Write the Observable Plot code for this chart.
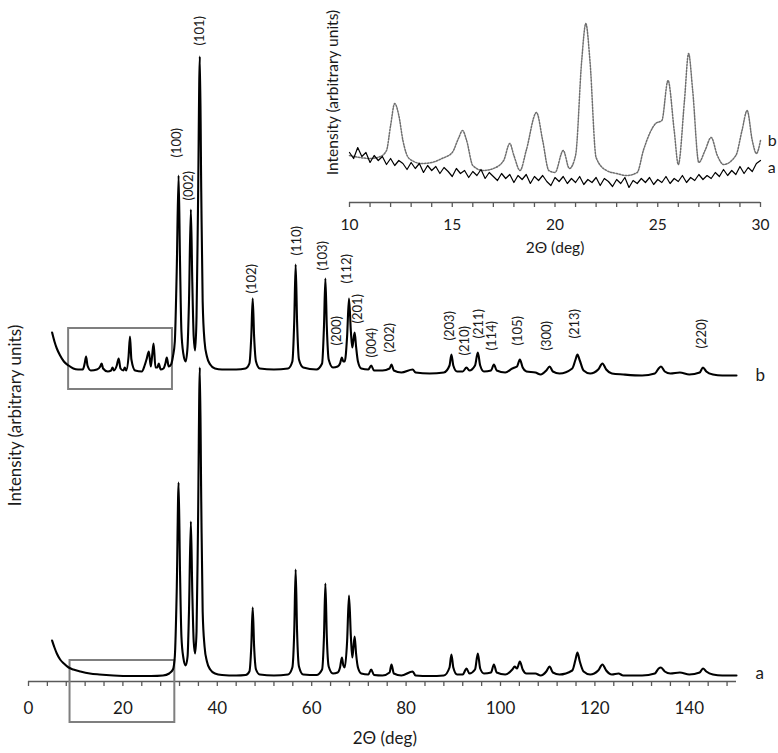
<!DOCTYPE html>
<html><head><meta charset="utf-8">
<script src="https://cdn.jsdelivr.net/npm/d3@7"></script>
<script src="https://cdn.jsdelivr.net/npm/@observablehq/plot@0.6"></script>
<style>
body{margin:0;background:#fff;}
#wrap{position:relative;width:778px;height:753px;font-family:Lato,sans-serif;}
#wrap svg{position:absolute;left:0;top:0;overflow:visible;}
</style></head><body><div id="wrap"></div>
<script>
// ---- main pattern: 2θ (deg) vs intensity (arbitrary units); trace b is drawn offset above a
const traceA = [[5.0,41],[5.5,34],[6.0,28],[6.7,22],[7.5,18],[8.5,14],[9.5,12],[11,10],[13,8],[15,7],[18,6],[22,5.5],[26,5.5],[28.5,6],[29.8,8],[30.6,12],[31.0,25],[31.4,90],[31.8,199],[32.1,110],[32.4,45],[32.8,24],[33.3,16],[33.7,25],[34.0,70],[34.4,160],[34.7,90],[35.0,40],[35.3,28],[35.6,50],[35.9,150],[36.3,314],[36.6,180],[36.9,70],[37.3,35],[37.8,20],[38.5,12],[39.5,8],[41,6.5],[44,6],[46,6.5],[46.8,10],[47.2,35],[47.5,74],[47.8,35],[48.2,12],[49,7],[52,6],[55,7],[55.9,14],[56.3,50],[56.6,112],[56.9,50],[57.3,15],[58.2,7],[61,6.5],[62.2,12],[62.6,45],[62.9,98],[63.2,45],[63.6,15],[64.5,8],[65.5,9],[66.0,14],[66.4,24],[66.7,16],[67.0,14],[67.5,40],[67.9,86],[68.3,45],[68.6,24],[68.8,32],[69.1,45],[69.4,28],[69.8,14],[70.5,8],[72,7],[72.6,12],[73.2,6.5],[75,6],[76.5,9],[76.9,17],[77.4,8],[79,6],[81.4,10],[82,6],[85,5.5],[88,6],[89.2,14],[89.6,27],[90.0,14],[90.8,7],[92,7],[92.8,13],[93.4,8],[94.6,12],[95.2,28],[95.7,13],[96.5,8],[98.0,9],[98.6,17],[99.2,9],[101,7],[102.5,12],[103.0,15],[103.5,13],[104.1,20],[104.7,12],[105.5,8],[107.4,8],[108.5,6],[109.7,10],[110.4,15],[111.1,9],[112.5,7],[115.2,11],[115.9,22],[116.3,29],[116.8,20],[117.6,10],[119,7],[120.7,11],[121.6,17],[122.4,11],[123.6,7],[125,8],[126,6],[130,6],[132.7,8],[133.5,13],[134.0,14],[134.8,10],[136,8],[138,9],[140,7],[142.2,9],[142.9,13],[143.6,10],[145,7],[147,6],[150,6]];
const traceB = [[5.0,349],[5.5,340],[6.0,333],[6.7,326],[7.5,320],[8.5,316],[9.5,313],[10.5,312],[11.5,312],[11.9,318],[12.2,325],[12.5,316],[13.2,311],[14.5,312],[15.2,315],[15.5,318],[15.8,313],[16.8,310],[17.5,311],[17.8,314],[18.1,311],[18.7,316],[19.1,323],[19.5,313],[20.1,311],[20.4,314],[20.7,311],[21.2,325],[21.5,345],[21.8,322],[22.6,311],[24.0,310],[24.6,316],[25.0,322],[25.5,330],[25.9,315],[26.2,326],[26.5,338],[26.9,314],[27.3,314],[27.6,318],[28.0,312],[28.6,313],[29.0,318],[29.3,324],[29.7,315],[30.2,317],[30.6,325],[31.0,340],[31.4,410],[31.8,506],[32.1,420],[32.4,350],[32.8,328],[33.3,320],[33.7,335],[34.0,380],[34.4,472],[34.7,400],[35.0,345],[35.3,331],[35.6,365],[35.9,470],[36.3,625],[36.6,490],[36.9,380],[37.3,340],[37.8,325],[38.5,317],[39.5,313],[41,312],[44,312],[46,313],[46.8,318],[47.2,345],[47.5,383],[47.8,345],[48.2,320],[49,313],[52,312],[55,313],[55.9,320],[56.3,360],[56.6,417],[56.9,360],[57.3,322],[58.2,314],[61,312],[62.2,318],[62.6,355],[62.9,403],[63.2,355],[63.6,322],[64.5,314],[65.5,315],[66.0,318],[66.4,324],[66.7,320],[67.0,320],[67.5,345],[67.9,383],[68.3,350],[68.6,334],[68.8,340],[69.1,349],[69.4,335],[69.8,320],[70.5,313],[72,312],[72.6,316],[73.2,311],[75,311],[76.5,313],[76.9,317],[77.4,311],[79,309],[81.4,312],[82,309],[85,308],[88,309],[89.2,316],[89.6,327],[90.0,316],[90.8,310],[92,310],[92.8,314],[93.4,311],[94.6,316],[95.2,329],[95.7,316],[96.5,310],[98.0,311],[98.6,317],[99.2,311],[101,309],[102.5,313],[103.0,314],[103.5,315],[104.1,322],[104.7,314],[105.5,310],[107.4,309],[108.5,307],[109.7,311],[110.4,315],[111.1,310],[112.5,308],[115.2,313],[115.9,322],[116.3,327],[116.8,321],[117.6,311],[119,308],[120.7,312],[121.6,318],[122.4,312],[123.6,308],[126,307],[130,306],[132.7,308],[133.5,313],[134.0,315],[134.8,310],[136,308],[138,309],[140,307],[142.2,309],[142.9,314],[143.6,310],[145,307],[147,306],[150,306]];

// Miller-index labels: [2θ, intensity at label foot, text]
const peakLabels = [[31.5,524,"(100)"],[34.0,481,"(002)"],[36.4,636,"(101)"],[47.4,388,"(102)"],[56.9,426,"(110)"],[62.4,411,"(103)"],[65.4,336,"(200)"],[67.5,398,"(112)"],[69.8,358,"(201)"],[72.8,324,"(004)"],[76.6,329,"(202)"],[89.3,341,"(203)"],[92.5,326,"(210)"],[95.5,343,"(211)"],[98.2,331,"(114)"],[103.7,336,"(105)"],[109.9,331,"(300)"],[115.8,343,"(213)"],[142.7,333,"(220)"]];

// zoom boxes (region 10–30° of each trace)
const boxX1 = [8.5, 8.8];
const boxX2 = [30.5, 31.0];
const boxY1 = [292, -41];
const boxY2 = [353, 21];

const mainTickLabels = [0,20,40,60,80,100,120,140];
const mainMinorTicks = d3.range(0,149,4);
const seriesNames = [[154,306,"b"],[154,8,"a"]];

// ---- inset (10–30°)
const insetAx = d3.range(10, 30.01, 0.2);
const insetAy = [50,44,55,46,50,40,47,42,46,38,44,37,42,39,33,40,34,39,30,37,32,36,29,35,31,26,34,29,32,25,31,27,33,24,30,26,22,29,24,28,20,27,23,28,19,26,22,27,21,17,25,21,26,19,24,20,26,18,23,20,25,17,24,21,16,23,19,25,15,22,19,24,20,25,18,23,20,26,19,24,21,27,20,25,22,28,23,27,24,30,26,33,27,32,28,36,29,35,31,39,42];
const insetB = [[10.0,47],[10.5,45],[11.0,44],[11.5,46],[11.8,52],[12.0,77],[12.2,99],[12.4,87],[12.6,62],[12.9,44],[13.5,39],[14.0,40],[14.5,44],[15.0,50],[15.3,64],[15.5,72],[15.7,62],[16.0,37],[16.5,32],[17.0,34],[17.5,42],[17.8,59],[18.0,47],[18.3,32],[18.6,52],[19.1,90],[19.4,62],[19.7,32],[20.0,30],[20.4,52],[20.7,34],[21.0,47],[21.3,142],[21.5,179],[21.7,142],[22.0,45],[22.5,32],[23.0,29],[23.5,27],[24.0,30],[24.3,52],[24.9,79],[25.2,82],[25.5,122],[25.8,72],[26.0,38],[26.3,102],[26.5,149],[26.7,112],[27.0,40],[27.3,52],[27.6,65],[27.9,47],[28.2,38],[28.8,47],[29.1,72],[29.35,92],[29.6,62],[29.8,49],[30.0,62]];
const insetTickLabels = [10,15,20,25,30];
const insetMinorTicks = d3.range(10,31,1);
const insetNames = [[30.35,62,"b"],[30.35,35,"a"]];

const axisColor = "#595959";
const textColor = "#1a1a1a";
const fontFam = "Lato, 'Open Sans', sans-serif";

const main = Plot.plot({
  width: 778, height: 753,
  marginLeft: 28, marginRight: 42, marginTop: 0, marginBottom: 72,
  x: {domain: [0,150]},
  y: {domain: [0,681], axis: null},
  style: {background: "transparent", fontFamily: fontFam, color: textColor, overflow: "visible"},
  marks: [
    Plot.ruleY([0], {stroke: axisColor, strokeWidth: 1.3}),
    Plot.ruleX(mainMinorTicks, {x: d => d, y1: 0, y2: -5, stroke: axisColor, strokeWidth: 1.3}),
    Plot.axisX({ticks: mainTickLabels, tickSize: 0, tickPadding: 20, fontSize: 17, label: null, fill: textColor}),
    Plot.text(["2Θ (deg)"], {x: 75.5, y: -57, text: d => d, fontSize: 17, fill: textColor}),
    Plot.text(["Intensity (arbitrary units)"], {x: -2.8, y: 266, text: d => d, rotate: -90, fontSize: 17, fill: textColor}),
    Plot.rect(boxX1, {x1: (d,i) => boxX1[i], x2: (d,i) => boxX2[i], y1: (d,i) => boxY1[i], y2: (d,i) => boxY2[i], fill: "none", stroke: "#7f7f7f", strokeWidth: 2}),
    Plot.line(traceA, {x: d => d[0], y: d => d[1], curve: "monotone-x", stroke: "#000", strokeWidth: 2.1}),
    Plot.line(traceB, {x: d => d[0], y: d => d[1], curve: "monotone-x", stroke: "#000", strokeWidth: 2.1}),
    Plot.text(peakLabels, {x: d => d[0], y: d => d[1], text: d => d[2], rotate: -90, textAnchor: "start", lineAnchor: "middle", fontSize: 13, fill: textColor}),
    Plot.text(seriesNames, {x: d => d[0], y: d => d[1], text: d => d[2], textAnchor: "start", fontSize: 17, fill: textColor})
  ]
});

const inset = Plot.plot({
  width: 778, height: 270,
  marginLeft: 349, marginRight: 18, marginTop: 0, marginBottom: 68,
  x: {domain: [10,30]},
  y: {domain: [0,202], axis: null},
  style: {background: "transparent", fontFamily: fontFam, color: textColor, overflow: "visible"},
  marks: [
    Plot.ruleY([0], {stroke: axisColor, strokeWidth: 1.3}),
    Plot.ruleX(insetMinorTicks, {x: d => d, y1: 0, y2: -5, stroke: axisColor, strokeWidth: 1.3}),
    Plot.axisX({ticks: insetTickLabels, tickSize: 0, tickPadding: 16, fontSize: 15.5, label: null, fill: textColor}),
    Plot.text(["2Θ (deg)"], {x: 20, y: -46, text: d => d, fontSize: 15.5, fill: textColor}),
    Plot.text(["Intensity (arbitrary units)"], {x: 9.2, y: 110, text: d => d, rotate: -90, fontSize: 15.5, fill: textColor}),
    Plot.line(insetB, {x: d => d[0], y: d => d[1], curve: "monotone-x", stroke: "#6e6e6e", strokeWidth: 1.5, strokeDasharray: "1.5,1.5"}),
    Plot.line(insetAx, {x: d => d, y: (d,i) => insetAy[i], curve: "linear", stroke: "#000", strokeWidth: 1.2}),
    Plot.text(insetNames, {x: d => d[0], y: d => d[1], text: d => d[2], textAnchor: "start", fontSize: 16, fill: textColor})
  ]
});

const wrap = document.getElementById("wrap");
wrap.appendChild(main);
wrap.appendChild(inset);
</script>
</body></html>
